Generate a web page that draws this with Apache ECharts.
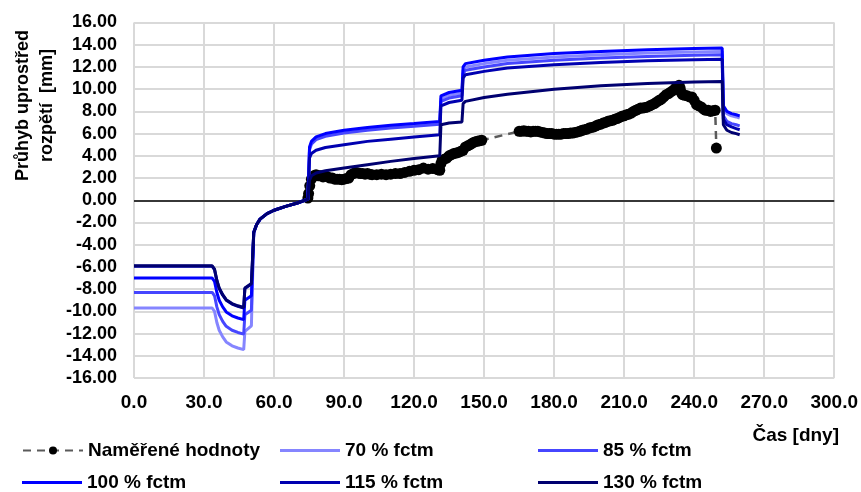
<!DOCTYPE html>
<html>
<head>
<meta charset="utf-8">
<script src="https://cdn.jsdelivr.net/npm/echarts@6/dist/echarts.min.js"></script>
<style>
  html, body { margin: 0; padding: 0; background: #ffffff; }
  #chart { width: 861px; height: 492px; }
</style>
</head>
<body>
<div id="chart"></div>
<script>
// Measured mid-span deflection [mm] against time [days]
const measuredDays = [
  74.5, 74.8, 75.3, 76, 77, 78, 79, 80, 81, 82, 83, 84, 85, 86, 87, 88, 89, 90,
  91, 92, 93, 94, 95, 96, 97, 98, 99, 100, 101, 102, 104, 106, 108, 110, 112,
  114, 116, 118, 120, 122, 124, 126, 128, 130, 131, 131.5, 132, 133, 134, 135,
  136, 137, 138, 139, 140, 141, 142, 143, 144, 145, 146, 147, 148, 149,
  165, 166, 167, 168, 169, 170, 171, 172, 173, 174, 175, 176, 177, 178, 179,
  180, 181, 182, 183, 184, 185, 186, 187, 188, 189, 190, 191, 192, 193, 194,
  195, 196, 197, 198, 199, 200, 201, 202, 203, 204, 205, 206, 207, 208, 209,
  210, 211, 212, 213, 214, 215, 216, 217, 218, 219, 220, 221, 222, 223, 224,
  225, 226, 227, 228, 229, 230, 231, 232, 233, 233.5, 234, 234.5, 235, 236,
  237, 238, 239, 240, 241, 242, 243, 244, 245, 246, 247, 248, 249, 249.5
];
const measuredValues = [
  0.2, 0.6, 1.3, 1.9, 2.2, 2.3, 2.2, 2.2, 2.1, 2.2, 2.1, 2.0, 2.0, 1.9, 1.9, 1.9, 1.85, 1.9,
  1.95, 2.0, 2.3, 2.4, 2.5, 2.45, 2.4, 2.4, 2.35, 2.4, 2.35, 2.3, 2.3, 2.35, 2.3, 2.35, 2.4,
  2.4, 2.5, 2.6, 2.7, 2.75, 2.9, 2.8, 2.85, 2.75, 2.7, 3.3, 3.6, 3.7, 3.8, 4.0,
  4.1, 4.2, 4.25, 4.3, 4.4, 4.5, 4.8, 4.9, 5.0, 5.15, 5.25, 5.3, 5.35, 5.4,
  6.2, 6.2, 6.25, 6.2, 6.2, 6.15, 6.2, 6.2, 6.2, 6.15, 6.1, 6.05, 6.0, 6.0, 6.0,
  5.95, 5.95, 5.95, 5.95, 6.0, 6.0, 6.0, 6.05, 6.05, 6.1, 6.15, 6.2, 6.3, 6.35, 6.4,
  6.5, 6.55, 6.6, 6.7, 6.8, 6.85, 6.95, 7.0, 7.1, 7.15, 7.2, 7.3, 7.35, 7.45, 7.55,
  7.6, 7.7, 7.75, 7.85, 8.0, 8.1, 8.2, 8.3, 8.3, 8.35, 8.4, 8.5, 8.6, 8.7, 8.85,
  9.0, 9.1, 9.3, 9.5, 9.6, 9.75, 9.9, 10.1, 10.2, 10.35, 10.1, 9.7, 9.5, 9.45,
  9.4, 9.3, 9.3, 9.0, 8.6, 8.5, 8.4, 8.2, 8.1, 8.1, 8.0, 8.05, 8.1, 4.7
];

// Model time steps [days], shared by all computed curves
const modelDays = [
  0, 33.5, 34.5, 35.5, 36.5, 38, 39.5, 42, 44.5, 47, 47.5, 50.3, 51.3, 52.5, 54,
  57, 60, 65, 70, 74.5, 75.2, 76, 78, 82, 90, 100, 110, 120, 131, 131.5, 135,
  140.5, 141, 142, 150, 160, 180, 200, 220, 240, 252, 252.5, 254, 256, 258, 259.5
];

// Computed deflection [mm] for each tensile strength level
const fctm70 = [
  -9.7, -9.7, -10.0, -11.0, -11.7, -12.3, -12.75, -13.1, -13.3, -13.45, -11.8, -11.3, -2.9, -2.2, -1.7,
  -1.2, -0.9, -0.55, -0.25, 0.1, 4.65, 5.15, 5.55, 5.85, 6.15, 6.4, 6.6, 6.75, 6.95, 9.15, 9.45,
  9.65, 11.7, 12.0, 12.3, 12.6, 12.9, 13.1, 13.25, 13.35, 13.4, 8.3, 7.8, 7.6, 7.5, 7.4
];
const fctm85 = [
  -8.3, -8.3, -8.6, -9.6, -10.3, -10.9, -11.35, -11.7, -11.9, -12.05, -10.3, -9.9, -2.9, -2.2, -1.7,
  -1.2, -0.9, -0.55, -0.25, 0.1, 4.55, 5.05, 5.45, 5.75, 6.05, 6.3, 6.5, 6.65, 6.85, 8.9, 9.2,
  9.4, 11.4, 11.7, 12.0, 12.3, 12.6, 12.8, 12.95, 13.05, 13.1, 7.6, 7.1, 6.9, 6.8, 6.7
];
const fctm100 = [
  -7.0, -7.0, -7.3, -8.3, -9.0, -9.6, -10.05, -10.4, -10.6, -10.75, -9.0, -8.6, -2.9, -2.2, -1.7,
  -1.2, -0.9, -0.55, -0.25, 0.1, 4.8, 5.3, 5.7, 6.0, 6.3, 6.55, 6.75, 6.9, 7.1, 9.4, 9.7,
  9.9, 12.0, 12.3, 12.6, 12.9, 13.2, 13.4, 13.55, 13.65, 13.7, 8.5, 8.0, 7.8, 7.7, 7.6
];
const fctm115 = [
  -5.95, -5.95, -6.25, -7.25, -7.95, -8.55, -9.0, -9.35, -9.55, -9.7, -7.95, -7.55, -2.9, -2.2, -1.7,
  -1.2, -0.9, -0.55, -0.25, 0.1, 3.8, 4.2, 4.5, 4.75, 5.0, 5.3, 5.5, 5.7, 5.9, 8.5, 8.8,
  9.0, 11.0, 11.3, 11.6, 11.9, 12.2, 12.4, 12.55, 12.65, 12.7, 7.3, 6.8, 6.6, 6.45, 6.35
];
const fctm130 = [
  -5.9, -5.9, -6.2, -7.2, -7.9, -8.5, -8.95, -9.3, -9.5, -9.65, -7.9, -7.5, -2.9, -2.2, -1.7,
  -1.2, -0.9, -0.55, -0.25, 0.1, 1.8, 2.2, 2.45, 2.65, 2.9, 3.2, 3.5, 3.75, 4.0, 6.8, 6.95,
  7.05, 8.7, 8.9, 9.25, 9.55, 10.0, 10.3, 10.5, 10.65, 10.7, 6.8, 6.3, 6.1, 6.0, 5.9
];

const seriesNames = ['Naměřené hodnoty', '70 % fctm', '85 % fctm', '100 % fctm', '115 % fctm', '130 % fctm'];
const modelSets = [fctm70, fctm85, fctm100, fctm115, fctm130];
const modelColors = ['#8585ff', '#4646ff', '#0000ff', '#0000b0', '#000070'];

const xTicks = { min: 0, max: 300, interval: 30 };
const yTicks = { min: -16, max: 16, interval: 2 };

const FONT = '"Liberation Sans", Arial, sans-serif';
const zip = (xs, ys) => xs.map((x, i) => [x, ys[i]]);

const chart = echarts.init(document.getElementById('chart'), null, { renderer: 'canvas' });

const series = [{
  name: seriesNames[0],
  type: 'line',
  data: zip(measuredDays, measuredValues),
  symbol: 'circle',
  symbolSize: 11,
  showAllSymbol: true,
  itemStyle: { color: '#000000' },
  lineStyle: { color: '#5a5a5a', width: 2.5, type: [8, 6] },
  z: 2,
  animation: false,
  markLine: {
    silent: true,
    symbol: 'none',
    label: { show: false },
    lineStyle: { color: '#000000', width: 1.5, type: 'solid' },
    data: [{ yAxis: 0 }]
  }
}];
modelSets.forEach((vals, i) => {
  series.push({
    name: seriesNames[i + 1],
    type: 'line',
    data: zip(modelDays, vals),
    showSymbol: false,
    symbol: 'none',
    lineStyle: { color: modelColors[i], width: 3 },
    itemStyle: { color: modelColors[i] },
    z: 3 + i,
    animation: false
  });
});

const legendSpots = [
  { left: 22, top: 441 }, { left: 280, top: 441 }, { left: 538, top: 441 },
  { left: 22, top: 473 }, { left: 280, top: 473 }, { left: 538, top: 473 }
];

chart.setOption({
  animation: false,
  backgroundColor: '#ffffff',
  grid: { left: 134, right: 24, top: 22.5, bottom: 114, containLabel: false },
  xAxis: {
    type: 'value',
    min: xTicks.min, max: xTicks.max, interval: xTicks.interval,
    axisLine: { show: false, onZero: false },
    axisTick: { show: false },
    axisLabel: {
      margin: 15, color: '#000', fontFamily: FONT, fontWeight: 'bold', fontSize: 19,
      formatter: v => v.toFixed(1)
    },
    splitLine: { show: true, lineStyle: { color: '#d9d9d9', width: 2 } }
  },
  yAxis: {
    type: 'value',
    min: yTicks.min, max: yTicks.max, interval: yTicks.interval,
    axisLine: { show: false },
    axisTick: { show: false },
    axisLabel: {
      margin: 17, color: '#000', fontFamily: FONT, fontWeight: 'bold', fontSize: 18,
      formatter: v => v.toFixed(2)
    },
    splitLine: { show: true, lineStyle: { color: '#d9d9d9', width: 2 } }
  },
  legend: seriesNames.map((n, i) => ({
    data: [n],
    left: legendSpots[i].left,
    top: legendSpots[i].top,
    itemWidth: 60,
    itemHeight: i === 0 ? 10 : 3,
    icon: i === 0 ? undefined : 'rect',
    itemGap: 0,
    padding: 0,
    selectedMode: false,
    textStyle: { color: '#000', fontFamily: FONT, fontWeight: 'bold', fontSize: 19 }
  })),
  graphic: [
    {
      type: 'text',
      left: 11, top: 30,
      rotation: Math.PI / 2,
      style: {
        text: 'Průhyb uprostřed\nrozpětí  [mm]',
        fill: '#000', font: 'bold 18px ' + FONT,
        textAlign: 'center', lineHeight: 24
      }
    },
    {
      type: 'text',
      right: 22, top: 426,
      style: { text: 'Čas [dny]', fill: '#000', font: 'bold 19px ' + FONT }
    }
  ],
  series: series
});
</script>
</body>
</html>
